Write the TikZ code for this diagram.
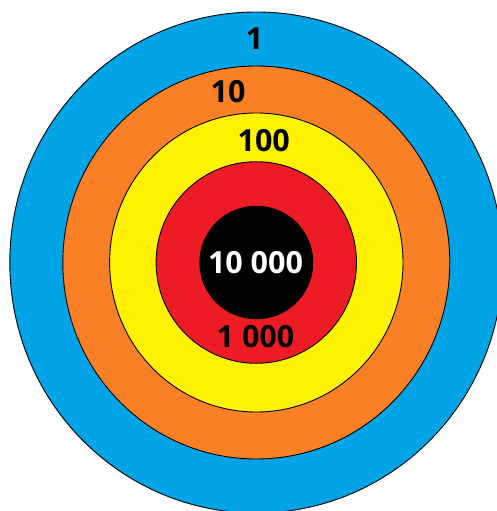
\documentclass[tikz,border=0pt]{standalone}
\usepackage{fontspec}
\setmainfont{Open Sans}
\definecolor{ringblue}{RGB}{0,164,230}
\definecolor{ringorange}{RGB}{250,128,38}
\definecolor{ringyellow}{RGB}{255,242,0}
\definecolor{ringred}{RGB}{237,28,36}
\tikzset{
  ring/.style={draw=black, line width=0.9pt},
  lbl/.style={inner sep=0pt, font=\fontsize{30.5}{32}\selectfont\bfseries},
}
\begin{document}
\begin{tikzpicture}[x=1pt,y=-1pt]
\useasboundingbox (0,0) rectangle (497,511);
\clip (0,0) rectangle (497,511);
\fill[white] (0,0) rectangle (497,511);
\coordinate (c) at (256.3,262.5);
\draw[ring, fill=ringblue] (c) ellipse [x radius=246.5, y radius=250.5];
\draw[ring, fill=ringorange] (c) ellipse [x radius=193.5, y radius=196.5];
\draw[ring, fill=ringyellow] (c) ellipse [x radius=146.7, y radius=149.5];
\draw[ring, fill=ringred] (c) ellipse [x radius=100.2, y radius=100.8];
\draw[ring, fill=black] (c) ellipse [x radius=56.5, y radius=56.3];
\node[lbl] (l1) at (254.5,38.5) {1};
\node[lbl] (l10) at (228,91.7) {10};
\node[lbl] (l100) at (263.7,140.5) {100};
\node[lbl] (l1000) at (255.5,336.7) {1 000};
\node[lbl, text=white] (l10000) at (255.5,263) {10 000};
\end{tikzpicture}
\end{document}
